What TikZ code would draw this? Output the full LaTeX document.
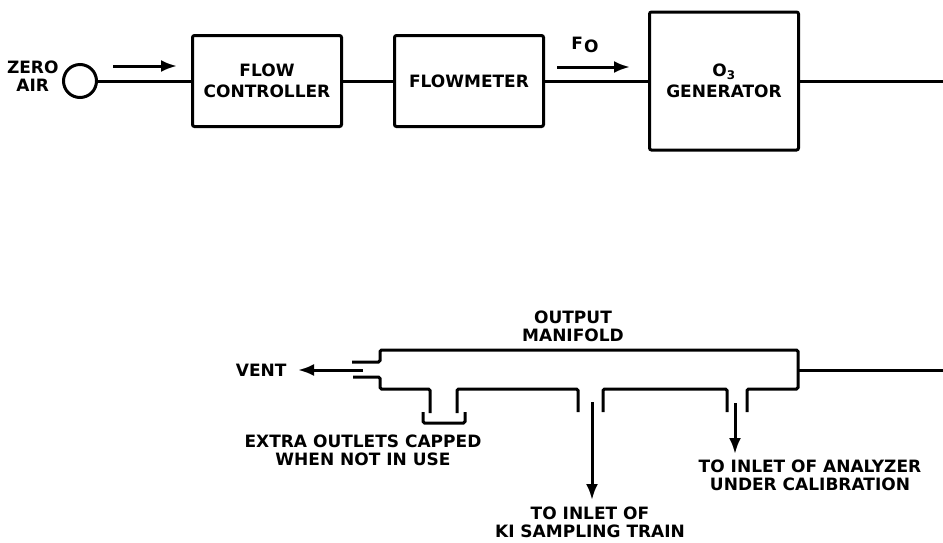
\documentclass[tikz,border=0pt]{standalone}
\usepackage{fontspec}
\setmainfont{DejaVu Sans}
\usetikzlibrary{arrows.meta, positioning, calc}

\begin{document}
\begin{tikzpicture}[
    x=1pt, y=-1pt,
    line width=3pt,
    box/.style={draw, rounded corners=2pt, minimum width=149pt, minimum height=91pt, font=\fontsize{17}{21}\selectfont\bfseries, align=center},
    lbl/.style={font=\fontsize{17}{18}\selectfont\bfseries, align=center, inner sep=0pt},
    arr/.style={-{Latex[length=16pt, width=12pt]}},
    pipe/.style={rounded corners=1.5pt},
]
\useasboundingbox (0,0) rectangle (943,542);

\node[draw, circle, minimum size=33pt, inner sep=0pt] (zero) at (80,81) {};
\node[lbl, left=2pt of zero, yshift=5pt] (zerolbl) {ZERO\\AIR};
\node[box] (ctrl) at (267,81) {FLOW\\CONTROLLER};
\node[box, right=50pt of ctrl] (meter) {FLOWMETER};
\node[box, minimum height=138pt, right=103pt of meter] (gen) {O\textsubscript{3}\\GENERATOR};
\coordinate (edge) at (943,0);

\draw (zero) -- (ctrl);
\draw (ctrl) -- (meter);
\draw (meter) -- (gen);
\draw (gen.east) -- (gen.east -| edge);

\coordinate (za) at (113,66);
\coordinate (zb) at (177,66);
\draw[arr] (za) -- (zb);
\coordinate (fa) at (557,67);
\coordinate (fb) at (630,67);
\draw[arr] (fa) -- (fb);
\node[lbl] (flbl) at (585,45) {F\kern1pt\raisebox{-3pt}{O}};

\node[lbl] (mlbl) at (573,326) {OUTPUT\\MANIFOLD};
\draw[pipe] (352,362) -- (380,362) -- (380,350) -- (798,350) -- (798,389) -- (747,389) -- (747,412);
\draw[pipe] (727,412) -- (727,389) -- (603,389) -- (603,412);
\draw[pipe] (578,412) -- (578,389) -- (457,389) -- (457,413);
\draw[pipe] (430,413) -- (430,389) -- (380,389) -- (380,377) -- (353,377);
\draw[pipe] (423,412) -- (423,423) -- (465,423) -- (465,412);
\coordinate (mout) at (798,370);
\draw (mout) -- (mout -| edge);

\node[lbl, anchor=east] (vent) at (288,370) {VENT};
\coordinate (vs) at (363,370);
\draw[arr] (vs) -- ([xshift=10pt]vent.east);

\node[lbl] (extra) at (363,450) {EXTRA OUTLETS CAPPED\\WHEN NOT IN USE};

\node[lbl, anchor=north] (kilbl) at (590,505) {TO INLET OF\\KI SAMPLING TRAIN};
\coordinate (ki) at (592,402);
\draw[arr] (ki) -- ($(ki |- kilbl.north)+(0,-5)$);

\node[lbl, anchor=north] (anlbl) at (810,458) {TO INLET OF ANALYZER\\UNDER CALIBRATION};
\coordinate (an) at (735,403);
\draw[arr] (an) -- ($(an |- anlbl.north)+(0,-4)$);
\end{tikzpicture}
\end{document}
